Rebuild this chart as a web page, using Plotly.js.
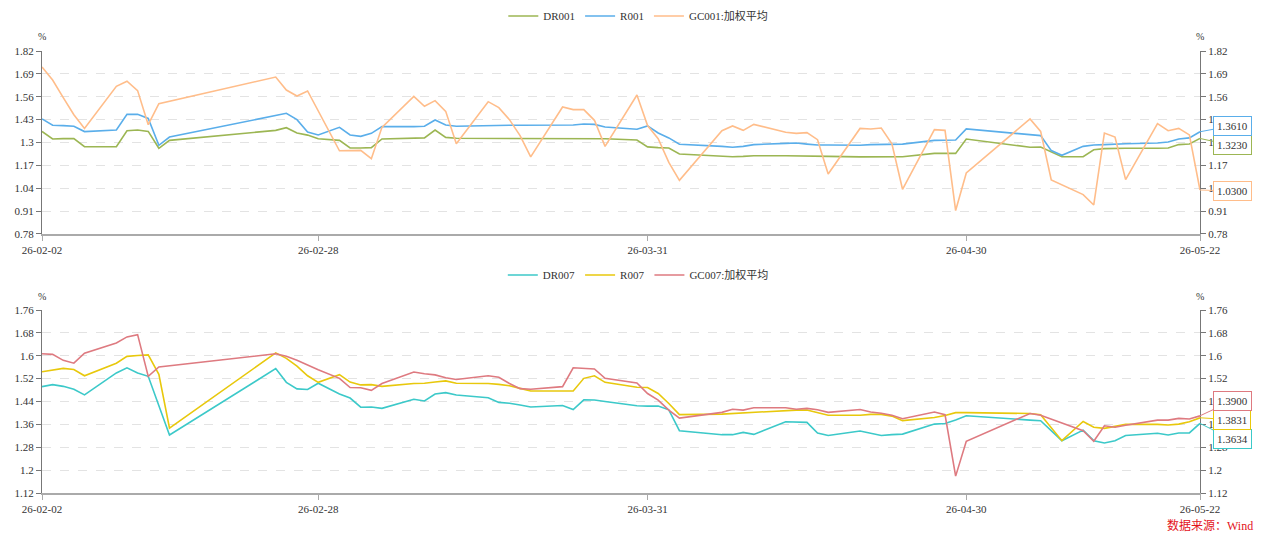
<!DOCTYPE html>
<html><head><meta charset="utf-8">
<script src="https://cdn.plot.ly/plotly-3.0.1.min.js"></script>
<style>html,body{margin:0;padding:0;background:#fff}#chart{width:1269px;height:541px}</style>
</head><body><div id="chart"></div>
<script>
const dates = [
'2026-02-02','2026-02-03','2026-02-04','2026-02-05','2026-02-06','2026-02-09','2026-02-10','2026-02-11','2026-02-12','2026-02-13','2026-02-14','2026-02-24','2026-02-25','2026-02-26','2026-02-27','2026-02-28',
'2026-03-02','2026-03-03','2026-03-04','2026-03-05','2026-03-06','2026-03-09','2026-03-10','2026-03-11','2026-03-12','2026-03-13','2026-03-16','2026-03-17','2026-03-18','2026-03-19','2026-03-20','2026-03-23','2026-03-24','2026-03-25','2026-03-26','2026-03-27','2026-03-30','2026-03-31',
'2026-04-01','2026-04-02','2026-04-03','2026-04-07','2026-04-08','2026-04-09','2026-04-10','2026-04-13','2026-04-14','2026-04-15','2026-04-16','2026-04-17','2026-04-20','2026-04-21','2026-04-22','2026-04-23','2026-04-24','2026-04-27','2026-04-28','2026-04-29','2026-04-30',
'2026-05-06','2026-05-07','2026-05-08','2026-05-09','2026-05-11','2026-05-12','2026-05-13','2026-05-14','2026-05-15','2026-05-18','2026-05-19','2026-05-20','2026-05-21','2026-05-22'];

const dr001 = [1.363,1.320,1.322,1.322,1.276,1.276,1.367,1.371,1.363,1.267,1.312,1.369,1.384,1.354,1.342,1.321,
1.312,1.269,1.269,1.271,1.320,1.324,1.326,1.371,1.329,1.324,1.323,1.323,1.323,1.323,1.323,1.322,1.323,1.322,1.322,1.321,1.314,1.275,
1.271,1.269,1.235,1.223,1.219,1.221,1.225,1.225,1.225,1.225,1.221,1.221,1.218,1.218,1.218,1.218,1.219,1.238,1.238,1.238,1.320,
1.273,1.274,null,1.219,1.219,1.259,1.265,1.267,1.267,1.267,1.269,1.288,1.291,1.323];

const r001 = [1.434,1.398,1.396,1.392,1.362,1.371,1.460,1.460,1.437,1.284,1.331,null,1.466,1.430,1.360,1.343,
1.386,1.343,1.335,1.352,1.390,1.390,1.392,1.428,1.399,1.392,1.398,1.398,1.398,1.398,1.398,1.398,1.399,1.405,1.403,1.388,1.375,1.394,
1.354,1.326,1.290,1.278,1.273,1.278,1.288,1.295,1.297,1.291,1.286,1.286,1.284,1.288,1.290,1.291,1.291,1.312,1.314,1.314,1.377,
1.348,1.339,1.254,1.227,1.278,1.286,1.288,1.291,1.293,1.297,1.303,1.320,1.326,1.361];

const gc001 = [1.729,1.655,1.555,1.458,1.380,1.619,1.648,1.595,1.401,1.521,null,1.672,1.598,1.564,1.593,null,
1.253,1.252,1.255,1.208,1.386,1.562,1.506,1.538,1.477,1.293,1.532,1.498,1.430,1.339,1.218,1.502,1.487,1.487,1.426,1.278,1.570,1.396,
1.322,1.187,1.085,1.367,1.394,1.369,1.403,1.358,1.352,1.356,1.316,1.121,1.380,1.377,1.382,1.293,1.034,1.373,1.369,0.913,1.127,
1.434,1.363,1.087,null,1.004,0.945,1.354,1.331,1.089,1.407,1.367,1.380,1.343,1.030];

const dr007 = [1.492,1.499,1.493,1.483,1.463,1.540,1.558,1.540,1.528,null,1.323,1.555,1.507,1.484,1.482,1.504,
1.466,1.452,1.420,1.421,1.416,1.448,1.442,1.466,1.471,1.463,1.453,1.437,1.434,1.428,1.421,1.426,1.412,1.446,1.445,1.440,1.425,1.424,
1.424,1.411,1.338,1.324,1.324,1.332,1.325,1.369,1.367,1.367,1.330,1.321,1.337,1.329,1.321,1.324,1.326,1.361,1.363,1.375,1.390,
1.375,1.373,null,1.303,1.340,1.303,1.295,1.303,1.321,1.329,1.323,1.330,1.330,1.3634];

const r007 = [1.544,1.551,1.556,1.552,1.530,1.574,1.598,1.601,1.603,1.535,1.347,1.610,1.591,1.564,1.530,1.507,
1.534,1.508,1.498,1.499,1.493,1.503,1.504,1.508,1.512,1.504,1.503,1.500,1.495,1.486,1.477,1.477,1.477,1.521,1.530,1.507,1.490,1.489,
1.468,1.433,1.394,1.396,1.398,1.401,1.401,1.408,1.410,1.410,1.402,1.392,1.392,1.395,1.395,1.389,1.373,1.384,1.391,1.401,1.401,
1.398,1.394,null,1.303,1.370,1.350,1.346,1.352,1.360,1.360,1.358,1.361,1.369,1.3831];

const gc007 = [1.607,1.605,1.584,1.574,1.609,1.645,1.666,1.674,1.528,1.561,null,1.607,1.598,1.584,1.567,1.551,
1.521,1.489,1.488,1.479,1.503,1.543,1.537,1.533,1.523,1.517,1.530,1.525,1.503,1.485,1.483,1.492,1.558,1.556,1.554,1.521,1.505,1.468,
1.445,1.410,1.382,1.402,1.413,1.410,1.418,1.418,1.413,1.416,1.411,1.402,1.412,1.403,1.399,1.392,1.380,1.403,1.394,1.179,1.301,
1.398,1.392,null,null,1.338,1.301,1.355,1.350,1.357,1.375,1.375,1.381,1.379,1.390];

const topNames = ['DR001','R001','GC001:加权平均'];
const botNames = ['DR007','R007','GC007:加权平均'];
const topTickVals = [0.78,0.91,1.04,1.17,1.3,1.43,1.56,1.69,1.82];
const topTickText = ['0.78','0.91','1.04','1.17','1.3','1.43','1.56','1.69','1.82'];
const botTickVals = [1.12,1.2,1.28,1.36,1.44,1.52,1.6,1.68,1.76];
const botTickText = ['1.12','1.2','1.28','1.36','1.44','1.52','1.6','1.68','1.76'];
const xTickVals = ['2026-02-02','2026-02-28','2026-03-31','2026-04-30','2026-05-22'];
const xTickText = ['26-02-02','26-02-28','26-03-31','26-04-30','26-05-22'];
const lastLabels = ['1.3230','1.3610','1.0300','1.3634','1.3831','1.3900'];
const sourceText = '数据来源：Wind';

const FONT = '"Liberation Serif", "Times New Roman", "Noto Sans CJK SC", serif';
const colors = ['#9cb653','#5aaeea','#ffbd8a','#3cc9c9','#e8c80c','#de7a80'];

function line(y, name, c, xa, ya, lg) {
  return {x: dates, y: y, name: name, type: 'scatter', mode: 'lines', connectgaps: true,
    line: {color: c, width: 1.6}, xaxis: xa, yaxis: ya, legend: lg, hoverinfo: 'skip'};
}
const traces = [
  line(dr001, topNames[0], colors[0], 'x', 'y', 'legend'),
  line(r001, topNames[1], colors[1], 'x', 'y', 'legend'),
  line(gc001, topNames[2], colors[2], 'x', 'y', 'legend'),
  line(dr007, botNames[0], colors[3], 'x2', 'y2', 'legend2'),
  line(r007, botNames[1], colors[4], 'x2', 'y2', 'legend2'),
  line(gc007, botNames[2], colors[5], 'x2', 'y2', 'legend2'),
  {x: dates, y: dr001, xaxis: 'x', yaxis: 'y3', mode: 'lines', line: {width: 0}, opacity: 0, showlegend: false, hoverinfo: 'skip'},
  {x: dates, y: dr007, xaxis: 'x2', yaxis: 'y4', mode: 'lines', line: {width: 0}, opacity: 0, showlegend: false, hoverinfo: 'skip'}
];

const xBase = {type: 'date', range: ['2026-02-02', '2026-05-22'], tickmode: 'array', tickvals: xTickVals, ticktext: xTickText,
  showgrid: false, showline: true, linecolor: '#aaa', linewidth: 2, ticks: 'outside', ticklen: 5, tickcolor: '#aaa',
  tickfont: {family: FONT, size: 11, color: '#333'}, zeroline: false, fixedrange: true};
function yBase(vals, text, dom) {
  return {range: [vals[0], vals[vals.length-1]], tickmode: 'array', tickvals: vals, ticktext: text, domain: dom,
    showgrid: true, gridcolor: '#e3e3e3', griddash: 'dash', gridwidth: 1, showline: true, linecolor: '#777', linewidth: 1,
    ticks: 'outside', ticklen: 5, tickcolor: '#777', tickfont: {family: FONT, size: 11, color: '#333'}, zeroline: false, fixedrange: true};
}
const topDom = [0.586, 1], botDom = [0, 0.414];
const layout = {
  width: 1269, height: 541, margin: {l: 42, r: 69, t: 51, b: 48, autoexpand: false}, paper_bgcolor: '#fff', plot_bgcolor: '#fff',
  font: {family: FONT, size: 11, color: '#333'},
  xaxis: Object.assign({}, xBase, {anchor: 'y'}),
  xaxis2: Object.assign({}, xBase, {anchor: 'y2'}),
  yaxis: Object.assign(yBase(topTickVals, topTickText, topDom), {anchor: 'x'}),
  yaxis2: Object.assign(yBase(botTickVals, botTickText, botDom), {anchor: 'x2'}),
  yaxis3: Object.assign(yBase(topTickVals, topTickText, topDom), {anchor: 'x', overlaying: 'y', side: 'right', showgrid: false}),
  yaxis4: Object.assign(yBase(botTickVals, botTickText, botDom), {anchor: 'x2', overlaying: 'y2', side: 'right', showgrid: false}),
  legend: {orientation: 'h', xref: 'container', yref: 'container', x: 0.503, xanchor: 'center', y: 0.9704, yanchor: 'middle', font: {family: FONT, size: 11, color: '#333'}, bgcolor: 'rgba(0,0,0,0)'},
  legend2: {orientation: 'h', xref: 'container', yref: 'container', x: 0.503, xanchor: 'center', y: 0.4917, yanchor: 'middle', font: {family: FONT, size: 11, color: '#333'}, bgcolor: 'rgba(0,0,0,0)'},
  showlegend: true,
  annotations: []
};
const pct = [[0, 1.0324], [1, 1.0324], [0, 0.4457], [1, 0.4457]];
pct.forEach(p => layout.annotations.push({text: '%', xref: 'paper', yref: 'paper', x: p[0], y: p[1], showarrow: false,
  xanchor: 'center', yanchor: 'middle', font: {family: FONT, size: 10, color: '#333'}}));
const last = dates[dates.length - 1];
const ends = [
  [dr001, 'x', 'y', colors[0], lastLabels[0], 7],
  [r001, 'x', 'y', colors[1], lastLabels[1], -6],
  [gc001, 'x', 'y', colors[2], lastLabels[2], 1],
  [dr007, 'x2', 'y2', colors[3], lastLabels[3], 16],
  [r007, 'x2', 'y2', colors[4], lastLabels[4], 2],
  [gc007, 'x2', 'y2', colors[5], lastLabels[5], -15]
];
ends.forEach(e => layout.annotations.push({x: last, y: e[0][e[0].length - 1], xref: e[1], yref: e[2], text: e[4],
  showarrow: true, arrowhead: 0, arrowwidth: 1, arrowcolor: e[3], ax: 32, ay: e[5], standoff: 0,
  bordercolor: e[3], borderwidth: 1, borderpad: 3, bgcolor: '#fff', font: {family: FONT, size: 11, color: '#333'}}));
layout.annotations.push({text: sourceText, xref: 'paper', yref: 'paper', x: 1.0086, y: -0.0724, showarrow: false,
  xanchor: 'center', yanchor: 'middle', font: {family: FONT, size: 12, color: '#e3121b'}});

Plotly.newPlot('chart', traces, layout, {displayModeBar: false, staticPlot: true});
</script></body></html>
